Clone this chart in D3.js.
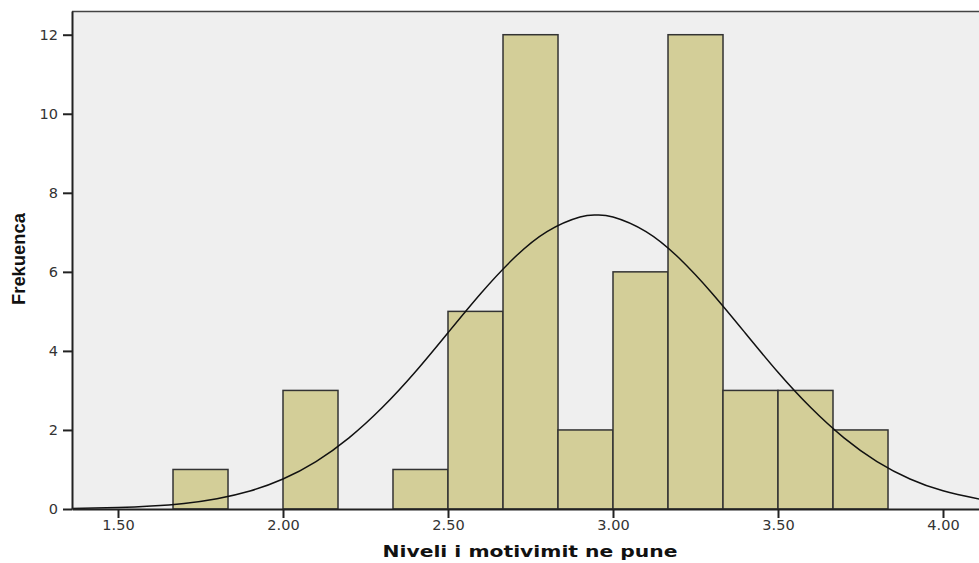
<!DOCTYPE html>
<html>
<head>
<meta charset="utf-8">
<script src="https://cdn.jsdelivr.net/npm/d3@7"></script>
<style>
  body { margin: 0; background: #fff; }
  svg { display: block; }
</style>
</head>
<body>
<svg id="chart" width="979" height="563"></svg>
<script>
// bin edges of the histogram (width 1/6)
let binStarts = [1.6667, 1.8333, 2.0, 2.1667, 2.3333, 2.5, 2.6667, 2.8333, 3.0, 3.1667, 3.3333, 3.5, 3.6667];
let binWidth = 1 / 6;
let counts = [1, 0, 3, 0, 1, 5, 12, 2, 6, 12, 3, 3, 2];

// normal curve
let curveX = [1.36, 1.5, 1.6, 1.7, 1.8, 1.9, 2.0, 2.1, 2.2, 2.3, 2.4, 2.5, 2.6, 2.7, 2.8, 2.9, 2.95,
    3.0, 3.1, 3.2, 3.3, 3.4, 3.5, 3.6, 3.7, 3.8, 3.9, 4.0, 4.11];
let curveY = [0.012, 0.036, 0.074, 0.142, 0.262, 0.457, 0.759, 1.2, 1.8, 2.56, 3.46, 4.46, 5.46, 6.35, 7.02, 7.39, 7.44,
    7.39, 7.02, 6.35, 5.46, 4.46, 3.46, 2.56, 1.8, 1.2, 0.76, 0.46, 0.25];

let xTicks = [1.5, 2.0, 2.5, 3.0, 3.5, 4.0];
let yTicks = [0, 2, 4, 6, 8, 10, 12];

let svg = d3.select("#chart");

let plotLeft = 72, plotRight = 979, plotTop = 11, plotBottom = 509;

let x = d3.scaleLinear()
    .domain([1.3606, 4.1091])
    .range([plotLeft, plotRight]);

let y = d3.scaleLinear()
    .domain([0, 12.6])
    .range([plotBottom, plotTop]);

// plot background
svg.append("rect")
    .attr("x", plotLeft)
    .attr("y", plotTop)
    .attr("width", plotRight - plotLeft)
    .attr("height", plotBottom - plotTop)
    .attr("fill", "#efefef");

svg.append("line")
    .attr("x1", plotLeft).attr("x2", plotRight)
    .attr("y1", plotTop + 0.5).attr("y2", plotTop + 0.5)
    .attr("stroke", "#444")
    .attr("stroke-width", 1.5);

// bars
svg.append("g")
    .selectAll("rect")
    .data(counts.map(function (c, i) { return { x0: binStarts[i], n: c }; })
        .filter(function (d) { return d.n > 0; }))
    .enter()
    .append("rect")
    .attr("x", function (d) { return x(d.x0); })
    .attr("y", function (d) { return y(d.n); })
    .attr("width", function (d) { return x(d.x0 + binWidth) - x(d.x0); })
    .attr("height", function (d) { return y(0) - y(d.n); })
    .attr("fill", "#d3ce98")
    .attr("stroke", "#333")
    .attr("stroke-width", 1.5);

// normal curve
let line = d3.line()
    .x(function (d, i) { return x(curveX[i]); })
    .y(function (d) { return y(d); })
    .curve(d3.curveNatural);

svg.append("path")
    .datum(curveY)
    .attr("d", line)
    .attr("fill", "none")
    .attr("stroke", "#111")
    .attr("stroke-width", 1.5);

// axes
let xAxis = svg.append("g")
    .attr("transform", "translate(0," + plotBottom + ")")
    .call(d3.axisBottom(x).tickValues(xTicks).tickFormat(d3.format(".2f")).tickSize(9).tickSizeOuter(0));

let yAxis = svg.append("g")
    .attr("transform", "translate(" + plotLeft + ",0)")
    .call(d3.axisLeft(y).tickValues(yTicks).tickFormat(d3.format("d")).tickSize(9).tickSizeOuter(0));

[xAxis, yAxis].forEach(function (ax) {
    ax.select(".domain").attr("stroke", "#222").attr("stroke-width", 2);
    ax.selectAll(".tick line").attr("stroke", "#222").attr("stroke-width", 2);
    ax.selectAll("text")
        .attr("fill", "#333")
        .style("font-family", "'DejaVu Sans', Verdana, sans-serif")
        .style("font-size", "14.5px");
});
xAxis.selectAll("text").attr("dy", "0.71em").attr("y", 11);
yAxis.selectAll("text").attr("x", -14);

// titles
svg.append("text")
    .attr("x", 530)
    .attr("y", 557)
    .attr("text-anchor", "middle")
    .attr("textLength", 295)
    .attr("lengthAdjust", "spacingAndGlyphs")
    .style("font-family", "'DejaVu Sans', Verdana, sans-serif")
    .style("font-weight", "bold")
    .style("font-size", "16px")
    .attr("fill", "#111")
    .text("Niveli i motivimit ne pune");

svg.append("text")
    .attr("transform", "translate(25,259) rotate(-90)")
    .attr("text-anchor", "middle")
    .attr("textLength", 92)
    .attr("lengthAdjust", "spacingAndGlyphs")
    .style("font-family", "'Liberation Sans Narrow', 'Liberation Sans', Arial, sans-serif")
    .style("font-weight", "bold")
    .style("font-size", "19px")
    .attr("fill", "#111")
    .text("Frekuenca");
</script>
</body>
</html>
